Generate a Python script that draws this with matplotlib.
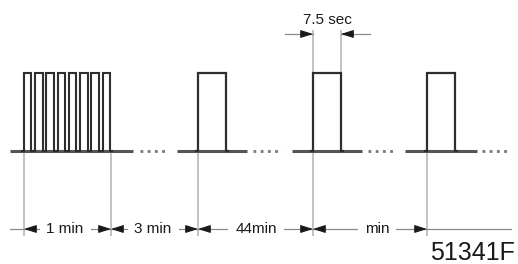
import matplotlib
matplotlib.use("Agg")
import matplotlib.pyplot as plt

plt.rcParams['font.family'] = ['Liberation Sans', 'DejaVu Sans']

# ---- data (diagram coordinates, pixel-like units) ----
burst_start = 24
burst_end = 110
burst_count = 8
burst_duty = 0.66
pulse_starts = [198, 313, 427]
pulse_width = 28
low_level = 151
high_level = 73
baseline_segments = [(10, 133), (177, 247), (292, 362), (405, 477)]
dot_gaps = [(140, 168), (253, 282), (368, 395), (482, 510)]
marker_x = [24, 111, 198, 313, 427]
interval_labels = ["1 min", "3 min", "44min", "min"]
label_x = [65, 153, 256, 377]
detail_label = "7.5 sec"
figure_code = "51341F"

dim_y = 229
guide_bottom = 236
guide_top = 30
sec_y = 34

fig = plt.figure(figsize=(5.18, 2.64), dpi=100)
ax = fig.add_axes([0, 0, 1, 1])
ax.set_xlim(0, 518)
ax.set_ylim(264, 0)
ax.axis('off')

guide_c = '#bdbdbd'
wave_c = '#2e2e2e'
base_c = '#555555'
dim_c = '#8a8a8a'
arrow_c = '#1a1a1a'
text_c = '#1a1a1a'

# guide lines
for x in marker_x:
    ax.plot([x, x], [low_level + 2, guide_bottom], color=guide_c, lw=1.3, zorder=1, solid_capstyle='butt')
sec_left = pulse_starts[1]
sec_right = pulse_starts[1] + pulse_width
for x in (sec_left, sec_right):
    ax.plot([x, x], [guide_top, high_level - 1], color=guide_c, lw=1.3, zorder=1, solid_capstyle='butt')

# baseline segments
for a, b in baseline_segments:
    ax.plot([a, b], [low_level, low_level], color=base_c, lw=2.2, zorder=2, solid_capstyle='butt')
# dotted gaps
for a, b in dot_gaps:
    ax.plot([a, b], [low_level, low_level], color='#777777', lw=2.0, zorder=2,
            linestyle=(0, (1.0, 1.6)))

# burst
period = (burst_end - burst_start) / (burst_count - (1 - burst_duty))
xs, ys = [burst_start - 2], [low_level]
for i in range(burst_count):
    r = burst_start + i * period
    f = r + period * burst_duty
    xs += [r, r, f, f]
    ys += [low_level, high_level, high_level, low_level]
xs.append(burst_end + 2)
ys.append(low_level)
ax.plot(xs, ys, color=wave_c, lw=1.5, zorder=3, solid_joinstyle='miter')

# single pulses
for p in pulse_starts:
    ax.plot([p - 2, p, p, p + pulse_width, p + pulse_width, p + pulse_width + 2],
            [low_level, low_level, high_level, high_level, low_level, low_level],
            color=wave_c, lw=1.6, zorder=3, solid_joinstyle='miter')

def arrow(tip, y, direction):
    # direction: -1 points left, +1 points right
    ax.annotate('', xy=(tip, y), xytext=(tip - direction * 11, y),
                arrowprops=dict(arrowstyle='-|>,head_length=0.75,head_width=0.24',
                                color=arrow_c, lw=0.8, shrinkA=0, shrinkB=0),
                zorder=5)

# dimension line
ax.plot([10, 511], [dim_y, dim_y], color=dim_c, lw=0.9, zorder=2)
for i, lab in enumerate(interval_labels):
    ax.text(label_x[i], dim_y, lab, ha='center', va='center', fontsize=11, color=text_c,
            zorder=4, bbox=dict(boxstyle='square,pad=0.45', fc='white', ec='none'))
for i, x in enumerate(marker_x):
    if i > 0:
        arrow(x, dim_y, +1)
    if i < len(marker_x) - 1:
        arrow(x, dim_y, -1)

# 7.5 sec dimension
ax.plot([285, sec_left], [sec_y, sec_y], color=dim_c, lw=0.9, zorder=2)
ax.plot([sec_right, 370], [sec_y, sec_y], color=dim_c, lw=0.9, zorder=2)
arrow(sec_left, sec_y, +1)
arrow(sec_right, sec_y, -1)
ax.text((sec_left + sec_right) / 2, 20, detail_label, ha='center', va='center',
        fontsize=11, color=text_c)

ax.text(515, 260, figure_code, ha='right', va='baseline', fontsize=18, color=text_c)

fig.savefig('out.png', dpi=100, facecolor='white')
